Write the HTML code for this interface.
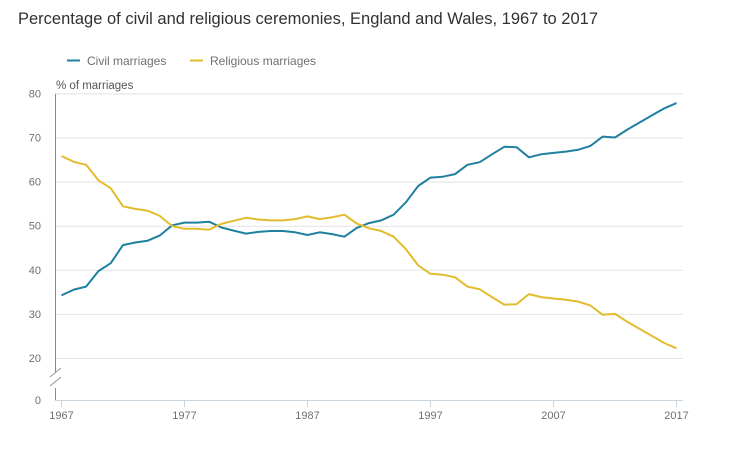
<!DOCTYPE html>
<html><head><meta charset="utf-8"><style>
body{margin:0;background:#fff;font-family:"Liberation Sans",sans-serif;}
svg text{font-family:"Liberation Sans",sans-serif;}
</style></head><body>
<svg id="chart" width="730" height="446" xmlns="http://www.w3.org/2000/svg">
<text x="18" y="24" font-size="16.5" fill="#323132">Percentage of civil and religious ceremonies, England and Wales, 1967 to 2017</text>
<g>
<g><line x1="67" y1="60.5" x2="80" y2="60.5" stroke="#1f80a0" stroke-width="2"/><text x="87" y="65" font-size="12" fill="#707070">Civil marriages</text></g>
<g><line x1="190" y1="60.5" x2="203" y2="60.5" stroke="#e3bc2e" stroke-width="2"/><text x="210" y="65" font-size="12" fill="#707070">Religious marriages</text></g>
</g>
<text x="56" y="89" font-size="11.5" fill="#555">% of marriages</text>
<g id="grid"></g><g id="axes"></g><g id="series"></g>
</svg>
<script>
const years=[];for(let y=1967;y<=2017;y++)years.push(y);
const civil=[34.2,35.5,36.2,39.7,41.5,45.6,46.2,46.6,47.8,50.1,50.7,50.7,50.9,49.6,48.9,48.2,48.6,48.8,48.8,48.5,47.9,48.5,48.1,47.5,49.5,50.6,51.2,52.5,55.3,59.0,60.9,61.1,61.7,63.8,64.4,66.2,67.9,67.8,65.5,66.2,66.5,66.8,67.2,68.1,70.2,70.0,71.8,73.4,75.0,76.6,77.8];
const religious=[65.8,64.5,63.8,60.3,58.5,54.4,53.8,53.4,52.2,49.9,49.3,49.3,49.1,50.4,51.1,51.8,51.4,51.2,51.2,51.5,52.1,51.5,51.9,52.5,50.5,49.4,48.8,47.5,44.7,41.0,39.1,38.9,38.3,36.2,35.6,33.8,32.1,32.2,34.5,33.8,33.5,33.2,32.8,31.9,29.8,30.0,28.2,26.6,25.0,23.4,22.2];
const yTicks=[20,30,40,50,60,70,80];
const xTicks=[1967,1977,1987,1997,2007,2017];
const NS='http://www.w3.org/2000/svg';
const X=y=>61.5+(y-1967)*12.3;
const Y=v=>v===0?400:358-(v-20)*4.41;
function mk(tag,attrs,parent){const e=document.createElementNS(NS,tag);for(const k in attrs)e.setAttribute(k,attrs[k]);parent.appendChild(e);return e;}
const grid=document.getElementById('grid'),axes=document.getElementById('axes'),series=document.getElementById('series');
yTicks.concat([0]).forEach(v=>{
 if(v!==0){const l=mk('line',{x1:55,x2:683,y1:Y(v)+0.5,y2:Y(v)+0.5,stroke:'#e2e2e2','stroke-width':1},grid);
 
 }
 const t=mk('text',{x:41,y:Y(v)+4,'font-size':11,fill:'#707070','text-anchor':'end'},axes);t.textContent=v;
 
 
});
const ya=mk('path',{d:'M55.5 94V372M55.5 388V401',stroke:'#888','stroke-width':1,fill:'none'},axes);


const br=mk('path',{d:'M50 377L61 368M50 386L61 377',stroke:'#999','stroke-width':1,fill:'none'},axes);


const xa=mk('line',{x1:55,x2:683,y1:400.5,y2:400.5,stroke:'#ccd6e0','stroke-width':1},axes);


xTicks.forEach(y=>{
 mk('line',{x1:X(y),x2:X(y),y1:401,y2:407,stroke:'#ccd6e0'},axes);
 const t=mk('text',{x:X(y),y:419,'font-size':11,fill:'#707070','text-anchor':'middle'},axes);t.textContent=y;
 
 
});
function line(vals,color,name){
 const d=vals.map((v,i)=>(i?'L':'M')+X(years[i]).toFixed(1)+' '+Y(v).toFixed(1)).join('');
 const p=mk('path',{d:d,stroke:color,'stroke-width':2,fill:'none','stroke-linejoin':'round'},series);
 
 
}
line(civil,'#1f80a0','civil-marriages-line');
line(religious,'#e3bc2e','religious-marriages-line');
</script>
</body></html>
